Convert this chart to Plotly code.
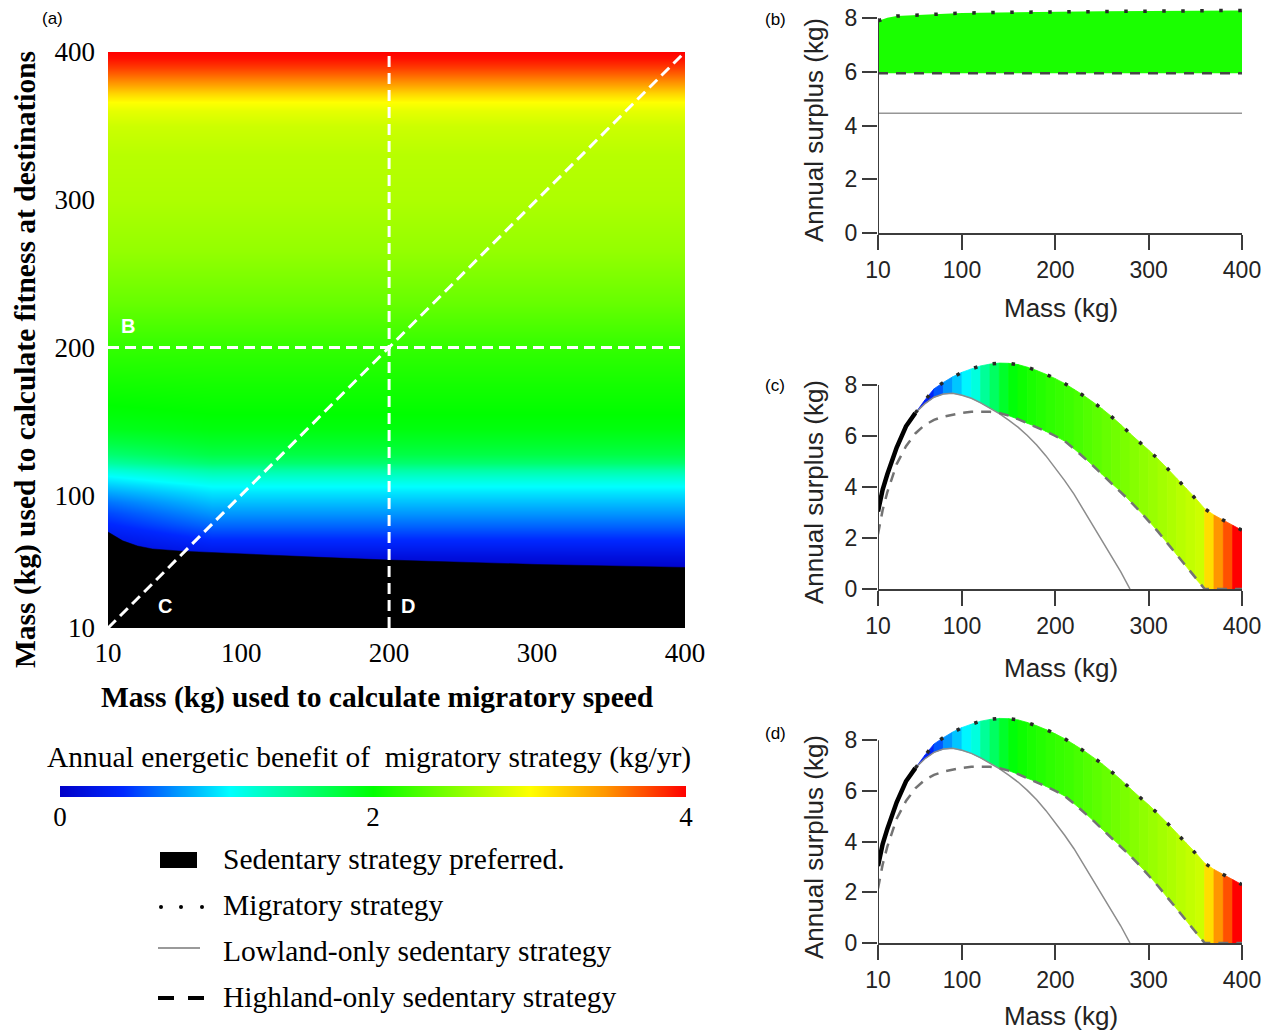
import plotly.graph_objects as go
from plotly.colors import sample_colorscale

W, H = 1276, 1034

# ---------------- data ----------------
COLORSCALE = [[0.0, 'rgb(0,0,200)'], [0.1, 'rgb(0,40,255)'], [0.27, 'rgb(0,255,255)'],
              [0.5, 'rgb(0,255,0)'], [0.75, 'rgb(255,255,0)'], [0.87, 'rgb(255,150,0)'],
              [1.0, 'rgb(255,0,0)']]
BENEFIT_MAX = 4
COLORBAR_Z = [0, 0.25, 0.5, 0.75, 1, 1.25, 1.5, 1.75, 2, 2.25, 2.5, 2.75, 3, 3.25, 3.5, 3.75, 4]
COLORBAR_TICKS = [0, 2, 4]
MASS_TICKS = [10, 100, 200, 300, 400]
SURPLUS_TICKS = [0, 2, 4, 6, 8]

# panel (a): benefit as a function of mass used for fitness (rows) and migratory speed (columns)
HEAT_X = [10, 80, 400]
HEAT_Y = [10, 45, 52, 58, 65, 72, 80, 88, 95, 102, 107, 112, 117, 122, 128, 135, 145, 155, 175, 200,
          230, 265, 300, 330, 350, 360, 366, 372, 378, 384, 390, 396, 400]
HEAT_BENEFIT = [0, 0, 0.05, 0.15, 0.3, 0.45, 0.6, 0.75, 0.88, 1.0, 1.1, 1.25, 1.4, 1.6, 1.75, 1.85, 1.95, 2.0,
                2.08, 2.2, 2.4, 2.58, 2.68, 2.72, 2.8, 2.9, 3.0, 3.2, 3.45, 3.62, 3.8, 3.95, 4.0]
HEAT_BENEFIT_LEFT = [0, 0, 0.02, 0.08, 0.16, 0.26, 0.38, 0.5, 0.64, 0.8, 0.92, 1.06, 1.22, 1.42, 1.6, 1.75,
                     1.9, 1.97, 2.07, 2.2, 2.4, 2.58, 2.68, 2.72, 2.8, 2.9, 3.0, 3.2, 3.45, 3.62, 3.8, 3.95, 4.0]
SED_X = [10, 15, 20, 30, 40, 60, 100, 150, 200, 300, 400]
SED_TOP = [75, 72, 69, 65.5, 63.5, 62, 60, 58, 56, 53, 51]
TRANSECT_B_Y = 200
TRANSECT_D_X = 200
TRANSECT_C = [10, 400]
LABEL_B = (23.5, 214.5)
LABEL_C = (48.5, 25)
LABEL_D = (212.8, 25)

# panel (b)
B_MASS = [10, 20, 30, 50, 70, 100, 150, 200, 250, 300, 350, 400]
B_MIGRATORY = [7.9, 8.02, 8.08, 8.12, 8.15, 8.19, 8.22, 8.24, 8.26, 8.27, 8.28, 8.29]
B_HIGHLAND = [5.95, 5.95, 5.95, 5.95, 5.95, 5.95, 5.95, 5.95, 5.95, 5.95, 5.95, 5.95]
B_LOWLAND = [4.46, 4.46, 4.46, 4.46, 4.46, 4.46, 4.46, 4.46, 4.46, 4.46, 4.46, 4.46]
B_BENEFIT = 2.1

# panels (c) and (d)
C_LOW_MASS = [10, 15, 20, 25, 30, 40, 50, 60, 70, 80, 90, 100, 110, 120, 130, 140, 150, 160, 170, 180,
              190, 200, 210, 220, 230, 240, 250, 260, 270, 280]
C_LOWLAND = [3.04, 3.9, 4.5, 5.07, 5.55, 6.38, 6.9, 7.26, 7.52, 7.65, 7.68, 7.6, 7.48, 7.3, 7.1, 6.88,
             6.62, 6.35, 6.02, 5.65, 5.22, 4.75, 4.25, 3.72, 3.12, 2.52, 1.93, 1.32, 0.68, 0.0]
C_HIGH_MASS = [10, 15, 20, 25, 30, 40, 50, 60, 70, 80, 90, 100, 110, 120, 130, 140, 150, 160, 170, 180,
               190, 200, 210, 220, 230, 240, 250, 260, 270, 280, 290, 300, 310, 320, 330, 340, 350, 360,
               370, 380, 390, 400]
C_HIGHLAND = [2.15, 3.1, 3.8, 4.4, 4.9, 5.6, 6.1, 6.43, 6.63, 6.76, 6.85, 6.91, 6.95, 6.96, 6.95, 6.9,
              6.8, 6.66, 6.5, 6.36, 6.18, 6.0, 5.8, 5.5, 5.19, 4.85, 4.5, 4.15, 3.83, 3.45, 3.07, 2.68,
              2.25, 1.8, 1.35, 0.9, 0.42, 0.0, 0.0, 0.0, 0.0, 0.0]
C_MIG_MASS = [50, 60, 70, 80, 90, 100, 110, 120, 130, 140, 150, 160, 170, 180, 190, 200, 210, 220, 230,
              240, 250, 260, 270, 280, 290, 300, 310, 320, 330, 340, 350, 360, 370, 380, 390, 400]
C_MIGRATORY = [6.9, 7.4, 7.85, 8.1, 8.32, 8.5, 8.63, 8.75, 8.82, 8.86, 8.85, 8.8, 8.7, 8.57, 8.42, 8.25,
               8.06, 7.83, 7.6, 7.34, 7.07, 6.77, 6.45, 6.1, 5.77, 5.45, 5.1, 4.73, 4.34, 3.95, 3.57,
               3.15, 2.9, 2.7, 2.5, 2.3]
C_STRIP_BENEFIT = [0.3, 0.35, 0.55, 0.75, 0.9, 1.05, 1.2, 1.45, 1.65, 1.85, 1.97, 2.05, 2.1, 2.14, 2.18,
                   2.21, 2.24, 2.28, 2.32, 2.36, 2.4, 2.44, 2.48, 2.52, 2.56, 2.6, 2.64, 2.68, 2.72, 2.76,
                   2.8, 3.15, 3.48, 3.72, 4.0]
SEDENTARY_END = 50
# panel (d) shows the same curves as panel (c)
D_LOW_MASS, D_LOWLAND = C_LOW_MASS, C_LOWLAND
D_HIGH_MASS, D_HIGHLAND = C_HIGH_MASS, C_HIGHLAND
D_MIG_MASS, D_MIGRATORY = C_MIG_MASS, C_MIGRATORY
D_STRIP_BENEFIT = C_STRIP_BENEFIT

LEGEND_ITEMS = ["Sedentary strategy preferred.", "Migratory strategy",
                "Lowland-only sedentary strategy", "Highland-only sedentary strategy"]

# ---------------- helpers ----------------
def px(x):
    return x / W

def py(y):
    return 1 - y / H

def bcolor(v):
    return sample_colorscale(COLORSCALE, [v / BENEFIT_MAX])[0]

SERIF = "Liberation Serif"
SANS = "Liberation Sans"
AX_COL = "rgb(60,60,60)"
TXT_COL = "rgb(35,35,35)"

fig = go.Figure()

# ---------------- panel (a) ----------------
z = [[HEAT_BENEFIT_LEFT[i], HEAT_BENEFIT[i], HEAT_BENEFIT[i]] for i in range(len(HEAT_Y))]
fig.add_trace(go.Heatmap(x=HEAT_X, y=HEAT_Y, z=z, zsmooth="best", colorscale=COLORSCALE, zmin=0,
                         zmax=BENEFIT_MAX, showscale=False, xaxis="x", yaxis="y", hoverinfo="skip"))
fig.add_trace(go.Scatter(x=SED_X, y=SED_TOP, mode="lines", fill="tozeroy", fillcolor="black",
                         line=dict(color="black", width=0.5), xaxis="x", yaxis="y", hoverinfo="skip"))
wdash = dict(color="white", width=3, dash="11px,6px")
fig.add_trace(go.Scatter(x=[TRANSECT_D_X, TRANSECT_D_X], y=[10, 400], mode="lines", line=wdash,
                         xaxis="x", yaxis="y", hoverinfo="skip"))
fig.add_trace(go.Scatter(x=[10, 400], y=[TRANSECT_B_Y, TRANSECT_B_Y], mode="lines", line=wdash,
                         xaxis="x", yaxis="y", hoverinfo="skip"))
fig.add_trace(go.Scatter(x=TRANSECT_C, y=TRANSECT_C, mode="lines", line=wdash,
                         xaxis="x", yaxis="y", hoverinfo="skip"))

# colour bar drawn as its own gradient strip
fig.add_trace(go.Heatmap(x=COLORBAR_Z, y=[0, 1], z=[COLORBAR_Z, COLORBAR_Z], zsmooth="best",
                         colorscale=COLORSCALE, zmin=0, zmax=BENEFIT_MAX, showscale=False,
                         xaxis="x5", yaxis="y5", hoverinfo="skip"))

# ---------------- panel (b) ----------------
fig.add_trace(go.Scatter(x=B_MASS, y=B_HIGHLAND, mode="lines", line=dict(width=0),
                         xaxis="x2", yaxis="y2", hoverinfo="skip"))
fig.add_trace(go.Scatter(x=B_MASS, y=B_MIGRATORY, mode="lines", fill="tonexty",
                         fillcolor=bcolor(B_BENEFIT), line=dict(width=0),
                         xaxis="x2", yaxis="y2", hoverinfo="skip"))
fig.add_trace(go.Scatter(x=B_MASS, y=B_LOWLAND, mode="lines", line=dict(color="rgb(150,150,150)", width=1.5),
                         xaxis="x2", yaxis="y2", hoverinfo="skip"))
fig.add_trace(go.Scatter(x=B_MASS, y=B_HIGHLAND, mode="lines",
                         line=dict(color="rgb(70,70,70)", width=2.5, dash="10px,8px"),
                         xaxis="x2", yaxis="y2", hoverinfo="skip"))
fig.add_trace(go.Scatter(x=B_MASS, y=B_MIGRATORY, mode="lines",
                         line=dict(color="rgb(40,40,40)", width=3.5, dash="3.5px,15.5px"),
                         xaxis="x2", yaxis="y2", hoverinfo="skip"))


def add_curve_panel(xa, ya, low_m, low, high_m, high, mig_m, mig, strip_val):
    low_d = dict(zip(low_m, low))
    high_d = dict(zip(high_m, high))
    for i in range(len(mig_m) - 1):
        m0, m1 = mig_m[i], mig_m[i + 1]
        b0 = max(low_d.get(m0, 0), high_d[m0])
        b1 = max(low_d.get(m1, 0), high_d[m1])
        col = bcolor(strip_val[i])
        fig.add_trace(go.Scatter(x=[m0, m1, m1, m0, m0], y=[mig[i], mig[i + 1], b1, b0, mig[i]],
                                 mode="lines", fill="toself", fillcolor=col,
                                 line=dict(color=col, width=0.8),
                                 xaxis=xa, yaxis=ya, hoverinfo="skip"))
    fig.add_trace(go.Scatter(x=low_m, y=low, mode="lines", line=dict(color="rgb(140,140,140)", width=1.5),
                             xaxis=xa, yaxis=ya, hoverinfo="skip"))
    fig.add_trace(go.Scatter(x=high_m, y=high, mode="lines",
                             line=dict(color="rgb(115,115,115)", width=2.5, dash="10px,8px"),
                             xaxis=xa, yaxis=ya, hoverinfo="skip"))
    fig.add_trace(go.Scatter(x=mig_m, y=mig, mode="lines",
                             line=dict(color="rgb(40,40,40)", width=3.5, dash="3.5px,15.5px"),
                             xaxis=xa, yaxis=ya, hoverinfo="skip"))
    sm = [m for m in low_m if m <= SEDENTARY_END]
    fig.add_trace(go.Scatter(x=sm, y=low[:len(sm)], mode="lines", line=dict(color="black", width=4.5),
                             xaxis=xa, yaxis=ya, hoverinfo="skip"))


add_curve_panel("x3", "y3", C_LOW_MASS, C_LOWLAND, C_HIGH_MASS, C_HIGHLAND, C_MIG_MASS, C_MIGRATORY,
                C_STRIP_BENEFIT)
add_curve_panel("x4", "y4", D_LOW_MASS, D_LOWLAND, D_HIGH_MASS, D_HIGHLAND, D_MIG_MASS, D_MIGRATORY,
                D_STRIP_BENEFIT)

# ---------------- axes ----------------
ax_a_font = dict(family=SERIF, size=27, color="black")
layout_axes = dict(
    xaxis=dict(domain=[px(108), px(685)], range=[10, 400], tickvals=MASS_TICKS, ticks="",
               showgrid=False, zeroline=False, showline=False, tickfont=ax_a_font,
               ticklabelstandoff=6, anchor="y"),
    yaxis=dict(domain=[py(628), py(52)], range=[10, 400], tickvals=MASS_TICKS, ticks="",
               showgrid=False, zeroline=False, showline=False, tickfont=ax_a_font,
               ticklabelstandoff=12, anchor="x"),
    xaxis5=dict(domain=[px(60), px(686)], range=[0, 4], tickvals=COLORBAR_TICKS, ticks="",
                showgrid=False, zeroline=False, showline=False, tickfont=ax_a_font,
                ticklabelstandoff=1, anchor="y5"),
    yaxis5=dict(domain=[py(797), py(786)], range=[0, 1], visible=False, anchor="x5"),
)
sans_tick = dict(family=SANS, size=23, color=TXT_COL)
panel_y = {"2": (233, 8.5), "3": (589, 9.0), "4": (943, 9.0)}
px_per_unit = {"2": 26.85, "3": 25.5, "4": 25.35}
for k, (y0, top) in panel_y.items():
    ytop = y0 - top * px_per_unit[k]
    layout_axes["xaxis" + k] = dict(domain=[px(878), px(1242)], range=[10, 400], tickvals=MASS_TICKS,
                                    ticks="outside", ticklen=15, tickwidth=2, tickcolor=AX_COL,
                                    showline=True, linewidth=2, linecolor=AX_COL, showgrid=False,
                                    zeroline=False, tickfont=sans_tick, anchor="y" + k)
    layout_axes["yaxis" + k] = dict(domain=[py(y0), py(ytop)], range=[0, top], tickvals=SURPLUS_TICKS,
                                    ticks="outside", ticklen=15, tickwidth=2, tickcolor=AX_COL,
                                    showline=False, showgrid=False, zeroline=False, tickfont=sans_tick,
                                    anchor="x" + k)

shapes = []
for k in ["2", "3", "4"]:
    shapes.append(dict(type="line", xref="x" + k, yref="y" + k, x0=10, x1=10, y0=0, y1=8,
                       line=dict(color=AX_COL, width=2)))

# legend glyphs
shapes.append(dict(type="rect", xref="paper", yref="paper", x0=px(160), x1=px(197), y0=py(868), y1=py(852),
                   fillcolor="black", line=dict(width=0)))
for cx in [161, 181, 202]:
    shapes.append(dict(type="circle", xref="paper", yref="paper", x0=px(cx - 2), x1=px(cx + 2),
                       y0=py(909), y1=py(905), fillcolor="black", line=dict(width=0)))
shapes.append(dict(type="line", xref="paper", yref="paper", x0=px(158), x1=px(200), y0=py(948), y1=py(948),
                   line=dict(color="rgb(120,120,120)", width=1.5)))
for a, b in [(158, 174), (188, 204)]:
    shapes.append(dict(type="line", xref="paper", yref="paper", x0=px(a), x1=px(b), y0=py(998), y1=py(998),
                       line=dict(color="black", width=4)))

ann = []
def A(text, x, y, font, angle=0, xanchor="center"):
    ann.append(dict(text=text, x=px(x), y=py(y), xref="paper", yref="paper", showarrow=False, font=font,
                    textangle=angle, xanchor=xanchor, yanchor="middle"))

lab_font = dict(family=SANS, size=17, color="black")
A("(a)", 52, 18, lab_font)
A("(b)", 775, 20, lab_font)
A("(c)", 775, 385, lab_font)
A("(d)", 775, 733, lab_font)
bold_serif = dict(family=SERIF, size=29.5, color="black", weight="bold")
A("Mass (kg) used to calculate migratory speed", 377, 697, bold_serif)
A("Mass (kg) used to calculate fitness at destinations", 25, 360, bold_serif, angle=-90)
A("Annual energetic benefit of\u00a0 migratory strategy (kg/yr)", 369, 757,
  dict(family=SERIF, size=29.5, color="black"))
ttl = dict(family=SANS, size=26, color=TXT_COL)
for yc in [130, 492, 847]:
    A("Annual surplus (kg)", 814, yc, ttl, angle=-90)
for yc in [308, 668, 1016]:
    A("Mass (kg)", 1061, yc, ttl)
wl = dict(family=SANS, size=20, color="white", weight="bold")
for t, (lx, ly) in zip(["B", "C", "D"], [LABEL_B, LABEL_C, LABEL_D]):
    ann.append(dict(text=t, x=lx, y=ly, xref="x", yref="y", showarrow=False, font=wl))
leg_font = dict(family=SERIF, size=29.5, color="black")
for t, yc in zip(LEGEND_ITEMS, [859, 905, 951, 997]):
    A(t, 221, yc, leg_font, xanchor="left")

fig.update_layout(width=W, height=H, margin=dict(l=0, r=0, t=0, b=0, autoexpand=False), autosize=False,
                  paper_bgcolor="white", plot_bgcolor="white", showlegend=False,
                  shapes=shapes, annotations=ann, **layout_axes)

fig.write_html("out.html", config={"displayModeBar": False},
               post_script="document.body.style.margin='0';")
